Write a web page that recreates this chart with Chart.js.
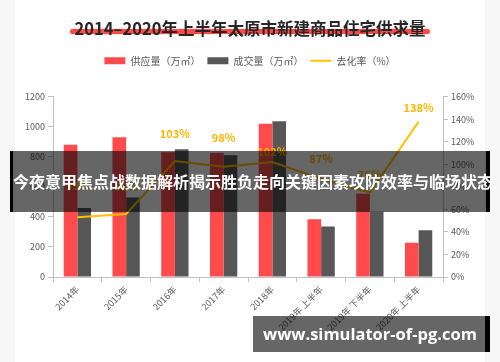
<!DOCTYPE html>
<html>
<head>
<meta charset="utf-8">
<script src="https://cdn.jsdelivr.net/npm/chart.js@4.4.0/dist/chart.umd.min.js"></script>
<style>
html, body { margin: 0; padding: 0; background: #f7f7f7; }
#wrap { position: relative; width: 500px; height: 362px; overflow: hidden; }
#card { position: absolute; left: 15px; top: 0; width: 470px; height: 362px; background: #fff; }
#c { position: absolute; left: 0; top: 0; }
.banner { position: absolute; box-sizing: border-box; background: rgba(0,0,0,0.6); color: #fff;
  font-weight: bold; white-space: nowrap; text-align: center; }
#b1 { left: 10px; top: 151px; width: 480px; height: 61px; line-height: 61px; font-size: 16px;
  border-left: 3px solid #000; border-right: 4px solid #000;
  font-family: "Noto Sans CJK SC", sans-serif; }
#b2 { left: 253px; top: 316px; width: 237px; height: 36px; line-height: 36px; font-size: 16.5px;
  border-right: 5px solid #000; font-family: "Open Sans", "Noto Sans", sans-serif; padding-left: 2px; }
</style>
</head>
<body>
<div id="wrap">
  <div id="card"></div>
  <canvas id="c" width="500" height="362"></canvas>
  <div class="banner" id="b1">今夜意甲焦点战数据解析揭示胜负走向关键因素攻防效率与临场状态</div>
  <div class="banner" id="b2">www.simulator-of-pg.com</div>
</div>
<script>
const categorias = ["2014年", "2015年", "2016年", "2017年", "2018年", "2019年 上半年", "2019年 下半年", "2020年 上半年"];
const oferta = [880, 930, 830, 825, 1020, 385, 555, 228];
const ventas = [460, 530, 850, 810, 1037, 336, 435, 312];
const tasa = [53, 56, 103, 98, 102, 87, 75, 138];
// distancia de cada etiqueta sobre su punto (px)
const desfaseEtiqueta = [31, 27, 27, 29, 10, 20, 18, 14];

const fuente = '"Noto Sans CJK SC", "Noto Sans", sans-serif';
const tamTitulo = 16.5;

// espacio extra bajo la leyenda
const espacioLeyenda = {
    id: 'espacioLeyenda',
    beforeInit(chart) {
        const fitOriginal = chart.legend.fit;
        chart.legend.fit = function () {
            fitOriginal.bind(chart.legend)();
            this.height += 21;
        };
    }
};

const subrayado = {
    id: 'subrayado',
    beforeDraw(chart) {
        const t = chart.titleBlock;
        if (!t) return;
        const ctx = chart.ctx;
        ctx.save();
        ctx.font = 'bold ' + tamTitulo + 'px ' + fuente;
        const w = ctx.measureText(chart.options.plugins.title.text).width;
        const cx = (t.left + t.right) / 2;
        const y = t.top + t.height / 2 + 7;
        ctx.strokeStyle = '#ff4a4a';
        ctx.lineWidth = 5;
        ctx.lineCap = 'round';
        ctx.shadowColor = 'rgba(255,60,60,0.4)';
        ctx.shadowBlur = 2;
        ctx.beginPath();
        ctx.moveTo(cx - w / 2 - 2, y);
        ctx.lineTo(cx + w / 2 + 2, y);
        ctx.stroke();
        ctx.restore();
    }
};

const etiquetas = {
    id: 'etiquetas',
    afterDatasetsDraw(chart) {
        const meta = chart.getDatasetMeta(2);
        const ctx = chart.ctx;
        ctx.save();
        ctx.font = 'bold 11px ' + fuente;
        ctx.fillStyle = '#ffb400';
        ctx.textAlign = 'center';
        ctx.textBaseline = 'middle';
        meta.data.forEach((p, i) => {
            ctx.fillText(tasa[i] + '%', p.x, p.y - desfaseEtiqueta[i]);
        });
        ctx.restore();
    }
};

const ctx = document.getElementById('c').getContext('2d');
new Chart(ctx, {
    type: 'bar',
    data: {
        labels: categorias,
        datasets: [
            {
                label: '供应量（万㎡）',
                data: oferta,
                backgroundColor: '#ff4b4b',
                pointStyle: 'rect',
                yAxisID: 'y',
                order: 1
            },
            {
                label: '成交量（万㎡）',
                data: ventas,
                backgroundColor: '#575757',
                pointStyle: 'rect',
                yAxisID: 'y',
                order: 2
            },
            {
                type: 'line',
                label: '去化率（%）',
                data: tasa,
                borderColor: '#ffc000',
                backgroundColor: '#ffc000',
                borderWidth: 2,
                pointRadius: 0,
                pointStyle: 'line',
                tension: 0,
                yAxisID: 'y1',
                order: -1
            }
        ]
    },
    options: {
        responsive: false,
        animation: false,
        categoryPercentage: 0.56,
        barPercentage: 1,
        plugins: {
            title: {
                display: true,
                text: '2014–2020年上半年太原市新建商品住宅供求量',
                color: '#262626',
                font: { family: fuente, size: tamTitulo, weight: 'bold' },
                padding: { top: 19, bottom: 10 }
            },
            legend: {
                labels: {
                    usePointStyle: true,
                    pointStyleWidth: 21,
                    boxHeight: 7,
                    color: '#595959',
                    font: { family: fuente, size: 10 },
                    padding: 7,
                    sort: (a, b) => a.datasetIndex - b.datasetIndex
                }
            },
            tooltip: { enabled: false }
        },
        scales: {
            x: {
                grid: { offset: true, drawOnChartArea: false, tickLength: 5, color: '#bfbfbf' },
                border: { color: '#bfbfbf' },
                ticks: { color: '#595959', font: { family: fuente, size: 9 }, minRotation: 45, maxRotation: 45, padding: 2 },
                afterFit: s => { s.height = 85; }
            },
            y: {
                position: 'left',
                min: 0, max: 1200,
                ticks: { stepSize: 200, color: '#595959', font: { family: fuente, size: 9 }, padding: 3,
                    callback: v => String(v) },
                grid: { drawOnChartArea: false, tickLength: 5, color: '#bfbfbf' },
                border: { color: '#bfbfbf' },
                afterFit: s => { s.width = 53; }
            },
            y1: {
                position: 'right',
                min: 0, max: 160,
                ticks: { stepSize: 20, color: '#595959', font: { family: fuente, size: 9 }, padding: 3,
                    callback: v => v + '%' },
                grid: { drawOnChartArea: false, tickLength: 5, color: '#bfbfbf' },
                border: { color: '#bfbfbf' },
                afterFit: s => { s.width = 57; }
            }
        }
    },
    plugins: [espacioLeyenda, subrayado, etiquetas]
});
</script>
</body>
</html>
